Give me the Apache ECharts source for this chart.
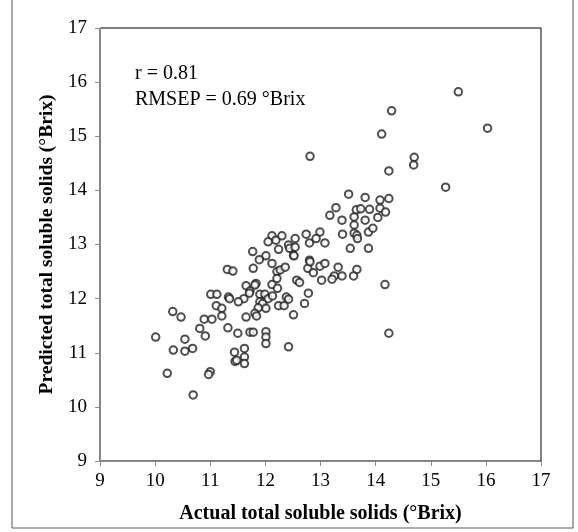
<!DOCTYPE html>
<html>
<head>
<meta charset="utf-8">
<script src="https://cdn.jsdelivr.net/npm/echarts@6/dist/echarts.min.js"></script>
<style>
  html, body { margin: 0; padding: 0; background: #fff; }
  #chart { width: 578px; height: 532px; }
</style>
</head>
<body>
<div id="chart"></div>
<script>
// actual vs predicted TSS (°Brix)
let actualTss = [
    11.31, 11.41, 11.78, 12.21, 12.27, 12.36, 12.77, 12.21, 12.57, 12.62,
    11.83, 11.81, 11.65, 12.12, 12.22, 11.72, 11.71, 11.01, 11.12, 11.33,
    11.35, 11.61, 11.51, 11.90, 11.99, 12.05, 12.13, 11.90, 11.95, 12.38,
    12.42, 12.78, 11.11, 11.21, 11.87, 12.01, 12.24, 12.34, 12.71, 10.32,
    10.47, 11.21, 11.65, 11.81, 11.84, 12.51, 10.89, 11.03, 10.81, 11.32,
    10.91, 11.50, 11.72, 11.78, 12.01, 12.01, 12.01, 10.01, 10.54, 12.42,
    10.33, 10.54, 10.68, 11.44, 11.62, 11.62, 11.45, 11.48, 11.62, 10.22,
    11.00, 10.97, 10.69,
    13.51, 13.81, 13.28, 13.17, 13.65, 13.73, 13.89, 13.39, 13.61, 13.81,
    13.61, 13.40, 13.61, 13.66, 13.67, 13.87, 12.74, 12.99, 12.80, 12.92,
    13.08, 12.12, 12.19, 12.05, 12.30, 12.42, 12.44, 12.54, 12.54, 12.24,
    12.51, 12.52, 13.54, 13.87, 11.77, 12.01, 11.89, 12.12, 12.80, 12.81,
    12.99, 13.08, 12.87, 13.32, 13.66, 13.25, 13.21, 13.39, 13.60, 13.02,
    15.50, 14.29, 16.03, 14.11, 12.81, 14.70, 14.69, 14.24, 15.27, 14.08,
    14.24, 14.08, 14.18, 14.04, 13.95, 14.17, 14.24
];
let predictedTss = [
    12.54, 12.51, 12.56, 12.50, 12.53, 12.58, 12.56, 12.37, 12.34, 12.30,
    12.28, 12.25, 12.24, 12.26, 12.19, 12.14, 12.10, 12.08, 12.08, 12.03,
    12.00, 12.00, 11.94, 12.08, 12.08, 12.00, 12.05, 11.94, 11.91, 12.03,
    11.99, 12.10, 11.87, 11.82, 11.83, 11.82, 11.87, 11.87, 11.91, 11.76,
    11.66, 11.68, 11.66, 11.73, 11.68, 11.70, 11.62, 11.62, 11.45, 11.46,
    11.31, 11.36, 11.38, 11.38, 11.39, 11.29, 11.17, 11.29, 11.25, 11.11,
    11.05, 11.03, 11.08, 11.01, 11.08, 10.92, 10.84, 10.86, 10.80, 10.62,
    10.65, 10.60, 10.22,
    13.93, 13.87, 13.68, 13.54, 13.64, 13.66, 13.65, 13.45, 13.51, 13.45,
    13.36, 13.19, 13.21, 13.17, 13.11, 13.23, 13.19, 13.23, 13.03, 13.11,
    13.03, 13.16, 13.08, 13.05, 13.16, 12.99, 12.93, 13.11, 12.95, 12.91,
    12.80, 12.79, 12.93, 12.93, 12.87, 12.79, 12.72, 12.65, 12.71, 12.68,
    12.60, 12.65, 12.48, 12.58, 12.54, 12.42, 12.36, 12.42, 12.42, 12.34,
    15.82, 15.47, 15.15, 15.04, 14.63, 14.61, 14.47, 14.36, 14.06, 13.82,
    13.85, 13.67, 13.60, 13.50, 13.30, 12.26, 11.36
];
let statLines = ["r = 0.81", "RMSEP = 0.69 °Brix"];

let serif = '"Liberation Serif", "DejaVu Serif", serif';
let myChart = echarts.init(document.getElementById("chart"));

let points = actualTss.map((x, i) => [x, predictedTss[i]]);

let axisCommon = {
    type: "value",
    min: 9,
    max: 17,
    interval: 1,
    splitLine: { show: false },
    axisLine: { show: true, onZero: false, lineStyle: { color: "#8c8c8c", width: 1 } },
    axisTick: { show: true, inside: false, length: 5, lineStyle: { color: "#8c8c8c" } },
    axisLabel: { color: "#000", fontFamily: serif, fontSize: 19 },
};

let option = {
    animation: false,
    grid: {
        left: 100,
        right: 37,
        top: 28,
        bottom: 71,
        show: true,
        borderColor: "#000",
        borderWidth: 1,
    },
    xAxis: Object.assign({}, axisCommon, {
        name: "Actual total soluble solids (°Brix)",
        nameLocation: "middle",
        nameGap: 43,
        nameTextStyle: { color: "#000", fontFamily: serif, fontSize: 20, fontWeight: "bold" },
        axisLabel: Object.assign({}, axisCommon.axisLabel, { margin: 11 }),
    }),
    yAxis: Object.assign({}, axisCommon, {
        name: "Predicted total soluble solids (°Brix)",
        nameLocation: "middle",
        nameGap: 38,
        nameTextStyle: { color: "#000", fontFamily: serif, fontSize: 19.5, fontWeight: "bold" },
        axisLabel: Object.assign({}, axisCommon.axisLabel, { margin: 13 }),
    }),
    graphic: [
        {
            type: "rect",
            shape: { x: 12, y: -2, width: 561, height: 530 },
            style: { fill: "none", stroke: "#555", lineWidth: 1 },
            silent: true,
        },
        {
            type: "text",
            left: 135,
            top: 61,
            style: {
                text: statLines.join("\n"),
                font: "20px " + serif,
                lineHeight: 26,
                fill: "#000",
            },
        },
    ],
    series: [
        {
            type: "scatter",
            data: points,
            symbol: "emptyCircle",
            symbolSize: 7.5,
            itemStyle: { color: "#222", borderColor: "#222", borderWidth: 1 },
        },
    ],
};
myChart.setOption(option);
</script>
</body>
</html>
